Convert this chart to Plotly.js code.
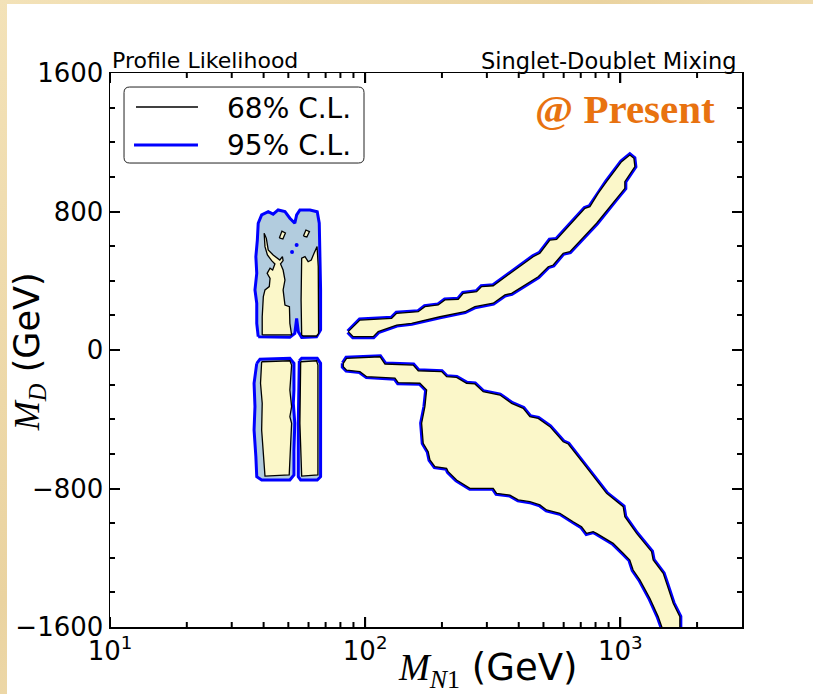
<!DOCTYPE html>
<html>
<head>
<meta charset="utf-8">
<script src="https://cdn.plot.ly/plotly-3.0.1.min.js"></script>
<style>
  html, body { margin: 0; padding: 0; width: 813px; height: 694px; overflow: hidden;
    background: linear-gradient(135deg, #f3e2b8 0%, #ead3a0 40%, #f5e6c0 70%, #e9d39f 100%); }
  #plot { position: absolute; left: 7px; top: 4px; width: 806px; height: 690px; background: #ffffff; }
</style>
</head>
<body>
<div id="plot"></div>
<script>
// ---------------- DATA (M_N1 in GeV, M_D in GeV) ----------------
const xRange = [10, 3000];
const yRange = [-1600, 1600];
const xTickVals = [10, 100, 1000];
const xTickText = ['10<sup>1</sup>', '10<sup>2</sup>', '10<sup>3</sup>'];
const xMinorVals = [20, 30, 40, 50, 60, 70, 80, 90, 200, 300, 400, 500, 600, 700, 800, 900, 2000];
const yTickVals = [-1600, -800, 0, 800, 1600];
const yTickText = ['\u22121600', '\u2212800', '0', '800', '1600'];
const legendLabels = ['68% C.L.', '95% C.L.'];

// 95% C.L. regions
const blobUp95_x = [38.1,37.6,37.6,37.0,37.6,37.3,37.8,38.1,39.3,41.7,43.6,45.6,48.5,50.7,53.0,53.9,55.5,60.8,64.9,66.1,66.5,66.9,66.9,64.5,56.4,54.7,53.9,53.0,50.7];
const blobUp95_y = [77,154,270,347,443,539,635,732,780,799,785,809,799,761,732,780,809,809,799,732,539,347,116,77,73,106,183,96,73];
const blobLoL95_x = [37.6,38.7,50.7,52.6,52.6,52.3,53.0,52.6,52.6,50.7,39.3,37.6,37.3,36.7,37.0,36.7];
const blobLoL95_y = [-77,-54,-48,-77,-231,-308,-423,-578,-722,-751,-751,-732,-616,-462,-327,-192];
const blobLoR95_x = [55.2,56.4,64.9,66.9,66.9,64.9,55.9,54.7,54.7];
const blobLoR95_y = [-62,-48,-48,-77,-732,-751,-751,-732,-423];
const dots95_x = [53.9, 51.7];
const dots95_y = [606, 566];

// arms (95% and 68% boundaries nearly coincide)
const armUp_x = [85.9,95.4,127.0,132.9,161.5,171.5,193.4,205.5,231.7,242.4,273.5,286.1,317.7,347.7,369.4,404.3,455.7,484.2,529.9,563.0,634.7,726.7,760.3,819.2,883.8,1012,1090,1131,1141,1042,1042,967,807.4,634.7,597.6,546.0,521.9,476.8,416.5,375.1,353.1,317.7,269.3,246.1,196.4,152.1,132.9,112.5,107.6,89.8];
const armUp_y = [106,173,183,212,221,250,260,289,293,327,337,366,371,414,443,481,539,559,635,639,722,818,828,905,972,1088,1126,1107,1059,972,934,876,732,568,559,491,481,423,366,327,318,270,250,221,192,154,144,106,77,77];
const armLo_x = [82.1,84.6,114.3,119.6,154.3,161.5,199.4,208.6,228.3,249.8,269.3,290.3,337.5,375.1,416.5,442.4,476.8,529.9,597.6,625.2,715.5,883.8,1026.6,1042,1158.7,1326.3,1345.6,1473.3,1518.9,1612.2,1712,1712,1496,1408,1306,1248,1193.5,1123.2,1090,1026.6,937.9,807.4,783.1,737.8,705.2,653.7,580,514.3,484.2,442.4,398.1,369.4,327.6,317.7,257.5,228.3,211.7,208.6,187.7,179.5,176.7,168.9,166.5,171.5,174.2,163.9,134.8,130.9,101.4,95.4,84.6,82.1];
const armLo_y = [-77,-48,-39,-81,-87,-120,-125,-154,-158,-192,-196,-241,-260,-308,-337,-385,-395,-443,-530,-543,-654,-828,-905,-963,-1059,-1165,-1213,-1290,-1348,-1463,-1540,-1650,-1650,-1540,-1434,-1376,-1328,-1271,-1213,-1174,-1117,-1059,-1049,-1059,-1021,-992,-943,-924,-895,-876,-866,-838,-828,-799,-799,-751,-703,-683,-674,-635,-587,-539,-423,-327,-231,-192,-189,-163,-154,-125,-116,-96];

// 68% C.L. regions
const blobUpL68_x = [39.5,39.5,39.9,40.5,42.1,42.4,41.3,42.4,43.4,44.3,43.0,41.4,40.5,40.2,41.0,41.7,43.6,46.3,47.4,47.7,46.6,47.7,48.5,47.7,48.5,50.5,50.7,51.5];
const blobUpL68_y = [87,192,308,347,366,414,443,472,462,497,516,549,597,674,645,578,549,520,539,516,497,462,404,347,260,250,154,87];
const blobUpR68_x = [56.4,56.1,56.4,58.1,59.8,61.5,63.0,64.8,65.5,65.7,65.7,64.5,57.2];
const blobUpR68_y = [87,289,530,539,510,520,558,597,481,289,96,81,81];
const isl1_x = [46.1,47.2,48.7,47.6];
const isl1_y = [647,687,676,641];
const isl2_x = [57.3,58.6,60.5,59.1];
const isl2_y = [658,693,684,653];
const blobLoL68_x = [39.3,50.7,51.5,50.7,51.5,50.7,51.5,51.0,50.4,40.5,39.9,39.3,39.5,38.9];
const blobLoL68_y = [-68,-62,-87,-231,-327,-385,-423,-539,-722,-728,-616,-462,-308,-192];
const blobLoR68_x = [55.9,64.5,65.3,65.3,56.4,55.5];
const blobLoR68_y = [-68,-62,-87,-722,-728,-423];

// ---------------- STYLE ----------------
const BLUE = 'rgb(0,0,255)';
const LIGHTBLUE = 'rgb(178,204,222)';
const YELLOW = 'rgb(251,247,201)';

function poly(x, y, fill, lc, lw) {
  return { type: 'scatter', mode: 'lines', x: x.concat([x[0]]), y: y.concat([y[0]]),
    fill: 'toself', fillcolor: fill, line: { color: lc, width: lw, shape: 'linear' },
    hoverinfo: 'skip', showlegend: false };
}

// x-axis tick marks (bottom and mirrored top) built from the tick arrays, in data units
const plotH = 554;
const yPerPx = (yRange[1] - yRange[0]) / plotH;
function tickTrace(vals, lenPx) {
  const tx = [], ty = [];
  const d = lenPx * yPerPx;
  vals.forEach(v => {
    tx.push(v, v, null, v, v, null);
    ty.push(yRange[0], yRange[0] + d, null, yRange[1], yRange[1] - d, null);
  });
  return { type: 'scatter', mode: 'lines', x: tx, y: ty, connectgaps: false, cliponaxis: false,
    line: { color: 'black', width: 2 }, hoverinfo: 'skip', showlegend: false };
}

const traces = [
  poly(blobUp95_x, blobUp95_y, LIGHTBLUE, BLUE, 3),
  poly(blobLoL95_x, blobLoL95_y, LIGHTBLUE, BLUE, 3),
  poly(blobLoR95_x, blobLoR95_y, LIGHTBLUE, BLUE, 3),
  poly(armUp_x, armUp_y, LIGHTBLUE, BLUE, 5),
  poly(armLo_x, armLo_y, LIGHTBLUE, BLUE, 5),
  poly(blobUpL68_x, blobUpL68_y, YELLOW, 'black', 1.3),
  poly(blobUpR68_x, blobUpR68_y, YELLOW, 'black', 1.3),
  poly(isl1_x, isl1_y, YELLOW, 'black', 1.3),
  poly(isl2_x, isl2_y, YELLOW, 'black', 1.3),
  poly(blobLoL68_x, blobLoL68_y, YELLOW, 'black', 1.3),
  poly(blobLoR68_x, blobLoR68_y, YELLOW, 'black', 1.3),
  poly(armUp_x, armUp_y, YELLOW, 'black', 1.3),
  poly(armLo_x, armLo_y, YELLOW, 'black', 1.3),
  { type: 'scatter', mode: 'markers', x: dots95_x, y: dots95_y,
    marker: { color: BLUE, size: 4 }, hoverinfo: 'skip', showlegend: false },
  tickTrace(xTickVals, 10),
  tickTrace(xMinorVals, 5)
];

const FONT = 'DejaVu Sans, Verdana, sans-serif';
const axisCommon = {
  showline: true, linecolor: 'black', linewidth: 1.5, mirror: 'allticks',
  ticks: 'inside', ticklen: 10, tickwidth: 2, tickcolor: 'black',
  showgrid: false, zeroline: false,
  tickfont: { family: FONT, size: 26, color: 'black' }
};

// legend box (rounded) in paper coords
const lx0 = 0.0222, lx1 = 0.4019, lyt = 0.9747, lyb = 0.8375, rx = 0.009, ry = 0.010;
const boxPath = `M ${lx0+rx} ${lyt} L ${lx1-rx} ${lyt} Q ${lx1} ${lyt} ${lx1} ${lyt-ry} L ${lx1} ${lyb+ry} Q ${lx1} ${lyb} ${lx1-rx} ${lyb} L ${lx0+rx} ${lyb} Q ${lx0} ${lyb} ${lx0} ${lyb+ry} L ${lx0} ${lyt-ry} Q ${lx0} ${lyt} ${lx0+rx} ${lyt} Z`;

const layout = {
  width: 806, height: 690,
  margin: { l: 103, r: 71, t: 69, b: 67 },
  paper_bgcolor: 'rgba(0,0,0,0)', plot_bgcolor: '#ffffff',
  showlegend: false,
  xaxis: Object.assign({}, axisCommon, {
    type: 'log', range: [Math.log10(xRange[0]), Math.log10(xRange[1])],
    tickmode: 'array', tickvals: xTickVals, ticktext: xTickText
  }),
  yaxis: Object.assign({}, axisCommon, {
    range: yRange, tickmode: 'array', tickvals: yTickVals, ticktext: yTickText,
    minor: { dtick: 200, ticks: 'inside', ticklen: 5, tickwidth: 2, tickcolor: 'black' }
  }),
  shapes: [
    { type: 'path', xref: 'paper', yref: 'paper', path: boxPath, line: { color: '#222', width: 1 }, fillcolor: 'white', layer: 'above' },
    { type: 'line', xref: 'paper', yref: 'paper', x0: 0.0411, x1: 0.1392, y0: 0.9386, y1: 0.9386, line: { color: 'black', width: 1.4 }, layer: 'above' },
    { type: 'line', xref: 'paper', yref: 'paper', x0: 0.0380, x1: 0.1392, y0: 0.8700, y1: 0.8700, line: { color: BLUE, width: 3 }, layer: 'above' }
  ],
  annotations: [
    { xref: 'paper', yref: 'paper', x: 0.3845, y: 0.9368, xanchor: 'right', yanchor: 'middle', showarrow: false,
      text: legendLabels[0], font: { family: FONT, size: 28, color: 'black' } },
    { xref: 'paper', yref: 'paper', x: 0.3845, y: 0.8700, xanchor: 'right', yanchor: 'middle', showarrow: false,
      text: legendLabels[1], font: { family: FONT, size: 28, color: 'black' } },
    { xref: 'paper', yref: 'paper', x: 0, y: 1.0217, xanchor: 'left', yanchor: 'middle', showarrow: false,
      text: 'Profile Likelihood', font: { family: FONT, size: 22, color: 'black' } },
    { xref: 'paper', yref: 'paper', x: 0.9953, y: 1.0217, xanchor: 'right', yanchor: 'middle', showarrow: false,
      text: 'Singlet-Doublet Mixing', font: { family: FONT, size: 22.5, color: 'black' } },
    { xref: 'paper', yref: 'paper', x: 0.9604, y: 0.9350, xanchor: 'right', yanchor: 'middle', showarrow: false,
      text: '<b>@ Present</b>', font: { family: 'Liberation Serif, Times New Roman, serif', size: 41, color: 'rgb(232,114,16)' } },
    { xref: 'paper', yref: 'paper', x: -0.128, y: 0.496, xanchor: 'center', yanchor: 'middle', showarrow: false, textangle: -90,
      text: '<span style="font-family:Liberation Serif"><i>M</i><sub><i>D</i></sub></span> (GeV)', font: { family: FONT, size: 35, color: 'black' } },
    { xref: 'paper', yref: 'paper', x: 0.598, y: -0.078, xanchor: 'center', yanchor: 'middle', showarrow: false,
      text: '<span style="font-family:Liberation Serif"><i>M</i><sub><i>N</i>1</sub></span> (GeV)', font: { family: FONT, size: 37, color: 'black' } }
  ]
};

Plotly.newPlot('plot', traces, layout, { staticPlot: true, displayModeBar: false });
</script>
</body>
</html>
